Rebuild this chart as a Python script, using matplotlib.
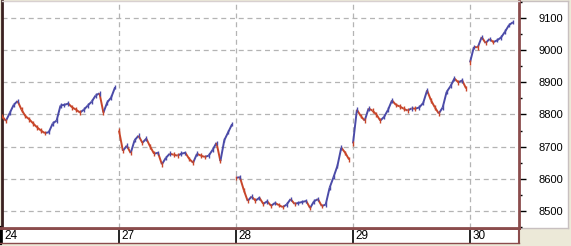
import matplotlib
matplotlib.use("Agg")
import matplotlib.pyplot as plt
from matplotlib.collections import LineCollection
from matplotlib.ticker import MultipleLocator

plt.rcParams['font.family'] = ['Liberation Sans', 'DejaVu Sans']

# Дни на оси и цены закрытия по барам (30 баров на день)
day_labels = ["24", "27", "28", "29", "30"]
BARS_PER_DAY = 30

closes_24 = [8795, 8780, 8805, 8830, 8842, 8815, 8795, 8785, 8772, 8760,
             8750, 8742, 8745, 8772, 8781, 8828, 8830, 8834, 8822, 8815,
             8806, 8815, 8828, 8840, 8859, 8866, 8806, 8838, 8853, 8885]
closes_27 = [8750, 8687, 8703, 8680, 8720, 8734, 8712, 8725, 8700, 8678,
             8681, 8645, 8665, 8678, 8675, 8672, 8678, 8681, 8662, 8650,
             8678, 8672, 8668, 8672, 8690, 8712, 8655, 8720, 8745, 8770]
closes_28 = [8603, 8605, 8565, 8531, 8545, 8532, 8541, 8522, 8530, 8516,
             8525, 8518, 8512, 8520, 8537, 8522, 8525, 8528, 8531, 8509,
             8530, 8537, 8515, 8520, 8572, 8605, 8640, 8697, 8681, 8660]
closes_29 = [8710, 8815, 8795, 8781, 8819, 8812, 8800, 8781, 8793, 8815,
             8844, 8830, 8825, 8818, 8812, 8819, 8818, 8822, 8836, 8875,
             8844, 8822, 8803, 8822, 8870, 8888, 8912, 8900, 8906, 8881]
closes_30 = [8962, 9010, 9009, 9041, 9022, 9035, 9025, 9031, 9040, 9058,
             9078, 9087]
days = [closes_24, closes_27, closes_28, closes_29, closes_30]

UP = "#4b4ba8"
DOWN = "#c8462a"
BORDER = "#8b4c4c"
GRID = "#b4b4b4"

W, H = 571, 246
fig = plt.figure(figsize=(W / 100, H / 100), dpi=100, facecolor="#ece9d8")

x_max = (519 - 2) / 117.0
ax = fig.add_axes([2 / W, 18 / H, 517 / W, 227 / H])
panel = fig.add_axes([519 / W, 18 / H, 49 / W, 227 / H])
strip = fig.add_axes([0, 3 / H, 519 / W, 15 / H])
ax.set_zorder(3)
panel.set_zorder(1)
strip.set_zorder(2)

# бары: отрезок от предыдущего закрытия к текущему, цвет по направлению
for d, closes in enumerate(days):
    xs = [d + i / BARS_PER_DAY for i in range(len(closes))]
    segs = []
    cols = []
    for i in range(1, len(closes)):
        segs.append([(xs[i - 1], closes[i - 1]), (xs[i], closes[i])])
        cols.append(UP if closes[i] >= closes[i - 1] else DOWN)
    ax.add_collection(LineCollection(segs, colors=cols, linewidths=1.4, zorder=3))
    # вертикальные штрихи баров (high-low)
    bar_segs = [[(x, c - 7), (x, c + 7)] for x, c in zip(xs, closes)]
    bar_cols = [DOWN] + cols
    ax.add_collection(LineCollection(bar_segs, colors=bar_cols, linewidths=1.0,
                                     zorder=3))

ax.set_xlim(0, x_max)
ax.set_ylim(8447, 9153)
ax.set_facecolor("white")
ax.set_xticks(range(len(day_labels)))
ax.tick_params(axis="x", bottom=False, labelbottom=False)
ax.yaxis.tick_right()
ax.yaxis.set_major_locator(MultipleLocator(100))
ax.yaxis.set_minor_locator(MultipleLocator(50))
ax.set_yticks(range(8500, 9101, 100))
ax.tick_params(axis="y", which="major", direction="out", length=5, width=1,
               pad=9, labelsize=8, colors="black")
ax.tick_params(axis="y", which="minor", direction="out", length=2.2, width=1,
               colors="black")
ax.grid(True, color=GRID, linestyle=(0, (4, 3)), linewidth=0.9)
ax.set_axisbelow(True)
ax.spines["right"].set_color(BORDER)
ax.spines["right"].set_linewidth(2)
ax.spines["bottom"].set_color(BORDER)
ax.spines["bottom"].set_linewidth(2)
ax.spines["left"].set_color("#3a2020")
ax.spines["left"].set_linewidth(2)
ax.spines["top"].set_color("#d8d0d0")
ax.spines["top"].set_linewidth(1)

panel.set_facecolor("white")
panel.set_xticks([])
panel.set_yticks([])
for s in ["top", "right", "bottom"]:
    panel.spines[s].set_color("#c8c0c0")
    panel.spines[s].set_linewidth(1)
panel.spines["left"].set_visible(False)

strip.set_facecolor("white")
strip.set_xlim(-2 / 117.0, x_max)
strip.set_ylim(0, 1)
strip.set_xticks([])
strip.set_yticks([])
strip.spines["top"].set_color(BORDER)
strip.spines["top"].set_linewidth(2)
strip.spines["right"].set_color(BORDER)
strip.spines["right"].set_linewidth(1.5)
strip.spines["bottom"].set_color(BORDER)
strip.spines["bottom"].set_linewidth(1)
strip.spines["left"].set_color("black")
strip.spines["left"].set_linewidth(3)
for i, lbl in enumerate(day_labels):
    strip.axvline(i, color="black", linewidth=1.2)
    strip.annotate(lbl, xy=(i, 0.45), xytext=(1.5, 0), textcoords="offset points",
                   ha="left", va="center", fontsize=8.5, color="black")

fig.savefig("out.png", dpi=100, facecolor=fig.get_facecolor())
